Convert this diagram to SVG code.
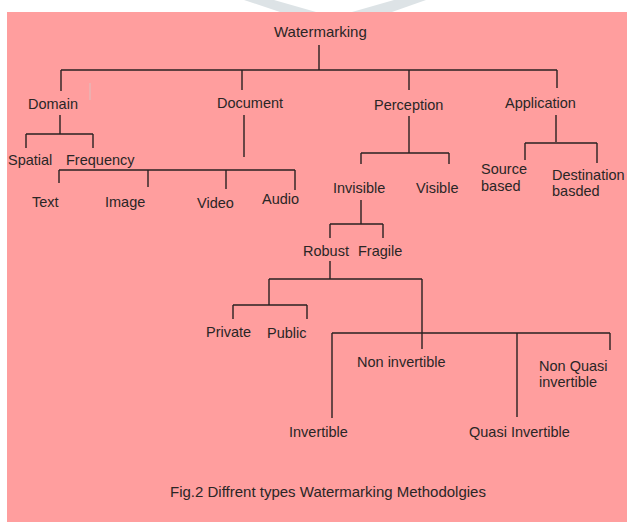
<svg xmlns="http://www.w3.org/2000/svg" width="627" height="527" viewBox="0 0 627 527">
  <style>
    .lbl { font-family: "Liberation Sans", Arial, sans-serif; font-size: 14.5px; fill: #2a2626; }
    .big { font-size: 15px; }
    .ln { stroke: #2a2222; stroke-width: 1.4; fill: none; }
  </style>
  <rect x="0" y="0" width="627" height="527" fill="#ffffff"/>
  <polygon points="244,0 274,0 316,12 280,12" fill="#dde3e6"/>
  <polygon points="394,0 426,0 392,12 352,12" fill="#dde3e6"/>
  <rect x="7" y="12" width="620" height="510" fill="#ff9e9e"/>
  <line x1="90" y1="83" x2="90" y2="100" stroke="#dcc0c0" stroke-width="1"/>

  <g id="connectors" class="ln">
    <path d="M319,45 V70 M61,70 H557 M61,70 V91 M242,70 V90 M409,70 V90 M557,70 V88"/>
    <path d="M60,115 V134 M26,134 H93 M26,134 V148 M93,134 V148"/>
    <path d="M244,115 V157 M59,170 H295 M59,170 V183 M148,170 V187 M226,170 V189 M295,170 V190"/>
    <path d="M409,116 V153 M361,153 H449 M361,153 V164 M449,153 V164"/>
    <path d="M556,115 V142 M525,143 H597 M525,143 V160 M597,143 V163"/>
    <path d="M361,200 V224 M330,224 H383 M330,224 V238 M383,224 V238"/>
    <path d="M330,261 V279 M269,279 H422 M269,279 V305 M422,279 V349"/>
    <path d="M233,305 H307 M233,305 V319 M307,305 V319"/>
    <path d="M332,333 H610 M332,333 V418 M517,333 V417 M610,333 V350"/>
  </g>

  <g id="watermarking"><text class="lbl big" x="274" y="37">Watermarking</text></g>
  <g id="domain"><text class="lbl" x="28" y="109">Domain</text></g>
  <g id="document"><text class="lbl" x="217" y="108">Document</text></g>
  <g id="perception"><text class="lbl" x="374" y="110">Perception</text></g>
  <g id="application"><text class="lbl" x="505" y="108">Application</text></g>
  <g id="spatial"><text class="lbl" x="8" y="165">Spatial</text></g>
  <g id="frequency"><text class="lbl" x="66" y="165">Frequency</text></g>
  <g id="text"><text class="lbl" x="32" y="207">Text</text></g>
  <g id="image"><text class="lbl" x="105" y="207">Image</text></g>
  <g id="video"><text class="lbl" x="197" y="208">Video</text></g>
  <g id="audio"><text class="lbl" x="262" y="204">Audio</text></g>
  <g id="invisible"><text class="lbl" x="333" y="193">Invisible</text></g>
  <g id="visible"><text class="lbl" x="416" y="193">Visible</text></g>
  <g id="source-based"><text class="lbl" x="481" y="174">Source</text><text class="lbl" x="481" y="191">based</text></g>
  <g id="destination-basded"><text class="lbl" x="552" y="180">Destination</text><text class="lbl" x="552" y="196">basded</text></g>
  <g id="robust"><text class="lbl" x="303" y="256">Robust</text></g>
  <g id="fragile"><text class="lbl" x="358" y="256">Fragile</text></g>
  <g id="private"><text class="lbl" x="206" y="337">Private</text></g>
  <g id="public"><text class="lbl" x="267" y="338">Public</text></g>
  <g id="non-invertible"><text class="lbl" x="357" y="367">Non invertible</text></g>
  <g id="non-quasi-invertible"><text class="lbl" x="539" y="371">Non Quasi</text><text class="lbl" x="539" y="387">invertible</text></g>
  <g id="invertible"><text class="lbl" x="289" y="437">Invertible</text></g>
  <g id="quasi-invertible"><text class="lbl" x="469" y="437">Quasi Invertible</text></g>
  <g id="caption"><text class="lbl big" x="170" y="497">Fig.2 Diffrent types Watermarking Methodolgies</text></g>
</svg>
